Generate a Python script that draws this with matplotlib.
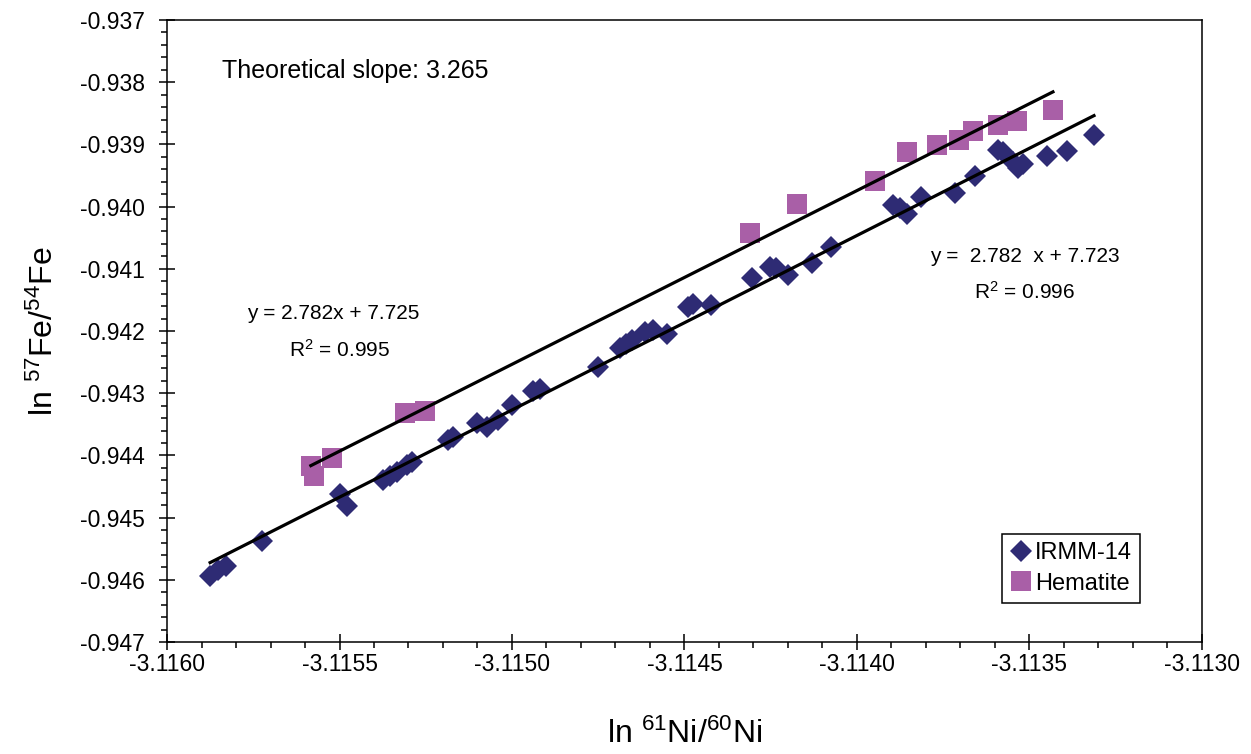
import numpy as np
import matplotlib
matplotlib.use("Agg")
import matplotlib.pyplot as plt
from matplotlib.ticker import MultipleLocator, FormatStrFormatter

plt.rcParams['font.family'] = ['Liberation Sans', 'DejaVu Sans']
plt.rcParams['mathtext.fontset'] = 'custom'
plt.rcParams['mathtext.rm'] = 'Liberation Sans'
plt.rcParams['mathtext.it'] = 'Liberation Sans:italic'

# IRMM-14 standard
irmm_x = [-3.115875, -3.115852, -3.115829, -3.115725, -3.115499, -3.115478,
          -3.115374, -3.115354, -3.115333, -3.115304, -3.115290, -3.115186,
          -3.115171, -3.115101, -3.115072, -3.115041, -3.115000, -3.114939,
          -3.114919, -3.114751, -3.114687, -3.114670, -3.114652, -3.114614,
          -3.114591, -3.114551, -3.114490, -3.114475, -3.114423, -3.114304,
          -3.114252, -3.114235, -3.114200, -3.114130, -3.114075, -3.113896,
          -3.113875, -3.113855, -3.113814, -3.113716, -3.113658, -3.113591,
          -3.113577, -3.113548, -3.113533, -3.113519, -3.113449, -3.113391,
          -3.113313]
irmm_y = [-0.945939, -0.945842, -0.945778, -0.945376, -0.944621, -0.944814,
          -0.944396, -0.944331, -0.944267, -0.944154, -0.944106, -0.943752,
          -0.943704, -0.943479, -0.943543, -0.943431, -0.943190, -0.942965,
          -0.942932, -0.942579, -0.942273, -0.942209, -0.942145, -0.942016,
          -0.941984, -0.942048, -0.941614, -0.941566, -0.941582, -0.941148,
          -0.940971, -0.940987, -0.941100, -0.940907, -0.940650, -0.939974,
          -0.940023, -0.940119, -0.939846, -0.939781, -0.939508, -0.939090,
          -0.939122, -0.939283, -0.939379, -0.939315, -0.939187, -0.939106,
          -0.938849]

# hematite
hem_x = [-3.115583, -3.115574, -3.115522, -3.115310, -3.115252, -3.114310,
         -3.114174, -3.113948, -3.113855, -3.113768, -3.113704, -3.113664,
         -3.113591, -3.113536, -3.113432]
hem_y = [-0.944170, -0.944331, -0.944042, -0.943318, -0.943286, -0.940425,
         -0.939958, -0.939589, -0.939122, -0.939010, -0.938929, -0.938785,
         -0.938688, -0.938624, -0.938447]

navy = '#2e2b74'
pink = '#a95fa7'

fig = plt.figure(figsize=(12.51, 7.54), dpi=100)
ax = fig.add_axes([0.1335, 0.1485, 0.8273, 0.825])

ax.plot(irmm_x, irmm_y, linestyle='none', marker='D', markersize=11,
        color=navy, markeredgewidth=0, label='IRMM-14', zorder=2)
ax.plot(hem_x, hem_y, linestyle='none', marker='s', markersize=15,
        color=pink, markeredgewidth=0, label='Hematite', zorder=2)

# linear trend lines over each data range
for xs, ys in [(irmm_x, irmm_y), (hem_x, hem_y)]:
    k, b = np.polyfit(xs, ys, 1)
    xx = np.array([min(xs), max(xs)])
    ax.plot(xx, k * xx + b, color='black', linewidth=2.3, zorder=3)

ax.set_xlim(-3.1160, -3.1130)
ax.set_ylim(-0.947, -0.937)
ax.xaxis.set_major_locator(MultipleLocator(0.0005))
ax.xaxis.set_minor_locator(MultipleLocator(0.0001))
ax.yaxis.set_major_locator(MultipleLocator(0.001))
ax.yaxis.set_minor_locator(MultipleLocator(0.0002))
ax.xaxis.set_major_formatter(FormatStrFormatter('%.4f'))
ax.yaxis.set_major_formatter(FormatStrFormatter('%.3f'))

ax.tick_params(which='major', direction='inout', length=12, width=1.1,
               labelsize=16.5)
ax.tick_params(which='minor', direction='out', length=4.5, width=1.1)
ax.tick_params(axis='x', which='major', pad=2)
ax.tick_params(axis='y', which='major', pad=10)
for s in ax.spines.values():
    s.set_linewidth(1.1)

ax.set_xlabel(r'ln $^{61}$Ni/$^{60}$Ni', fontsize=23, labelpad=31)
ax.set_ylabel(r'ln $^{57}$Fe/$^{54}$Fe', fontsize=23, labelpad=14)

ax.text(0.053, 0.918, 'Theoretical slope: 3.265', transform=ax.transAxes,
        fontsize=18, va='center', ha='left')
ax.text(-3.115519, -0.941711, 'y = 2.782x + 7.725', fontsize=15,
        ha='center', va='center')
ax.text(-3.115499, -0.942306, r'R$^2$ = 0.995', fontsize=15,
        ha='center', va='center')
ax.text(-3.113513, -0.940810, 'y =  2.782  x + 7.723', fontsize=15,
        ha='center', va='center')
ax.text(-3.113513, -0.941373, r'R$^2$ = 0.996', fontsize=15,
        ha='center', va='center')

leg = ax.legend(loc='upper left', bbox_to_anchor=(1001.7 / 1251, 1 - 534 / 754),
                bbox_transform=fig.transFigure, borderaxespad=0, fontsize=17,
                fancybox=False, edgecolor='black', framealpha=1,
                handlelength=0.9, handletextpad=0.15, borderpad=0.35,
                labelspacing=0.35)
leg.get_frame().set_linewidth(1.1)

fig.savefig('out.png', dpi=100)
